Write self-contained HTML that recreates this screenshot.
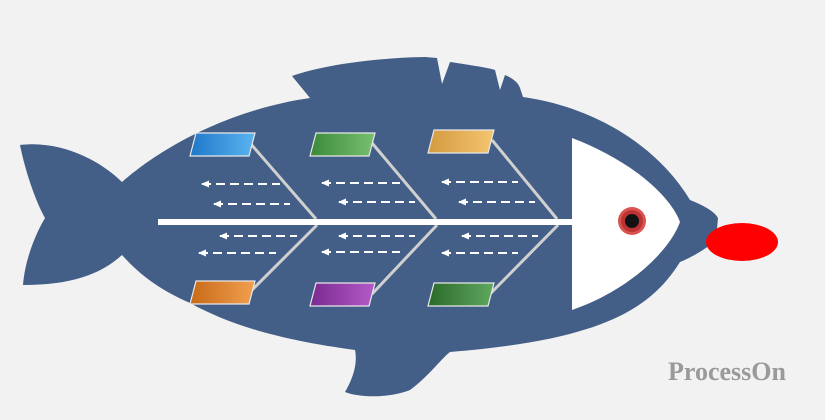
<!DOCTYPE html>
<html><head><style>html,body{margin:0;padding:0;background:#f2f2f2}svg{display:block}</style></head>
<body>
<svg width="825" height="420" viewBox="0 0 825 420" xmlns="http://www.w3.org/2000/svg">
<defs>
<linearGradient id="gb" x1="0" x2="1"><stop offset="0" stop-color="#1f78c8"/><stop offset="1" stop-color="#5ab4f0"/></linearGradient>
<linearGradient id="gg" x1="0" x2="1"><stop offset="0" stop-color="#3a8a3a"/><stop offset="1" stop-color="#78c070"/></linearGradient>
<linearGradient id="gt" x1="0" x2="1"><stop offset="0" stop-color="#d49a40"/><stop offset="1" stop-color="#f5c570"/></linearGradient>
<linearGradient id="go" x1="0" x2="1"><stop offset="0" stop-color="#c86a18"/><stop offset="1" stop-color="#f0a050"/></linearGradient>
<linearGradient id="gp" x1="0" x2="1"><stop offset="0" stop-color="#7a2a90"/><stop offset="1" stop-color="#b45ac8"/></linearGradient>
<linearGradient id="gd" x1="0" x2="1"><stop offset="0" stop-color="#2a6a2a"/><stop offset="1" stop-color="#60a860"/></linearGradient>
<marker id="ah" markerWidth="8" markerHeight="8" refX="1" refY="4" orient="auto" markerUnits="userSpaceOnUse"><path d="M0,4 L8,0.5 L8,7.5 Z" fill="#fff"/></marker>
</defs>
<path fill="#445f87" d="M122,182 C170,140 240,108 310,98 L292,76 C320,66 370,58 425,57 L437,58 L442,84 L450,62 C470,65 490,68 495,70 L500,90 L505,75 C512,78 518,82 520,88 L523,97 C600,108 660,150 690,200 C705,206 715,212 718,218 L716,240 C705,250 690,258 680,262 C650,310 600,340 450,352 C440,360 430,375 410,390 C390,398 360,398 345,392 C352,380 358,365 355,350 C280,340 230,325 190,303 C160,290 140,275 122,255 C100,275 70,285 23,285 C25,260 35,235 45,218 C35,200 25,170 20,145 C60,140 100,160 122,182 Z"/>
<path fill="#fff" d="M572,138 C630,160 670,195 680,222 C670,250 630,290 572,310 Z"/>
<circle cx="632" cy="221" r="14" fill="#d9534f"/><circle cx="632" cy="221" r="11" fill="#b33"/><circle cx="632" cy="221" r="7" fill="#111"/>
<ellipse cx="742" cy="242" rx="36" ry="19" fill="#f00"/>
<g stroke="#d0d0d0" stroke-width="3" fill="none">
<path d="M250,143 L316,219 M372,143 L436,219 M492,140 L557,219 M317,225 L250,292 M437,225 L372,294 M558,225 L490,294"/>
</g>
<rect x="158" y="219" width="414" height="6" fill="#fff"/>
<g stroke="#fff" stroke-width="2" stroke-dasharray="9,5" fill="none" marker-start="url(#ah)">
<path d="M202,184 L280,184"/><path d="M214,204 L290,204"/><path d="M220,236 L297,236"/><path d="M199,253 L276,253"/>
<path d="M322,183 L400,183"/><path d="M339,202 L415,202"/><path d="M339,236 L415,236"/><path d="M322,252 L400,252"/>
<path d="M442,182 L518,182"/><path d="M459,202 L535,202"/><path d="M462,236 L538,236"/><path d="M442,253 L518,253"/>
</g>
<g stroke="#e8e8e8" stroke-width="1.2">
<path d="M196,133 L255,133 L249,156 L190,156 Z" fill="url(#gb)"/>
<path d="M316,133 L375,133 L369,156 L310,156 Z" fill="url(#gg)"/>
<path d="M434,130 L494,130 L488,153 L428,153 Z" fill="url(#gt)"/>
<path d="M196,281 L255,281 L249,304 L190,304 Z" fill="url(#go)"/>
<path d="M316,283 L375,283 L369,306 L310,306 Z" fill="url(#gp)"/>
<path d="M434,283 L494,283 L488,306 L428,306 Z" fill="url(#gd)"/>
</g>
<text x="668" y="380" font-family="Liberation Serif, serif" font-weight="bold" font-size="26" fill="#9a9a9a">ProcessOn</text>
</svg>
</body></html>
